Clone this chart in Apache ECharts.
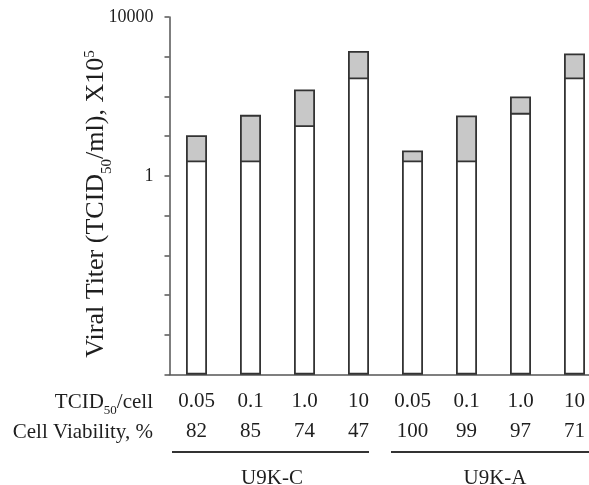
<!DOCTYPE html>
<html lang="en">
<head>
    <meta charset="UTF-8">
    <title>Viral Titer</title>
    <script src="https://cdn.jsdelivr.net/npm/echarts@6/dist/echarts.min.js"></script>
    <style>
        html, body { margin: 0; padding: 0; background: #fff; overflow: hidden; }
        /* the last bar band runs past the right edge of the picture */
        #chart { width: 602px; height: 485px; }
    </style>
</head>
<body>
    <div id="chart"></div>
    <script>
        // values (x10^5 TCID50/ml)
        var doses = ['0.05', '0.1', '1.0', '10', '0.05', '0.1', '1.0', '10'];
        var viability = ['82', '85', '74', '47', '100', '99', '97', '71'];
        var lowerTiter = [2.44, 2.44, 18.9, 300, 2.44, 2.44, 38.6, 300];   // white part
        var upperTiter = [10.6, 34.4, 150, 1400, 4.36, 33.2, 100, 1210];   // top of grey part
        var yTickLabels = ['1', '10000'];
        var groups = ['U9K-C', 'U9K-A'];

        var serif = '"Liberation Serif", "DejaVu Serif", serif';
        var ink = '#1e1e1e';

        var chart = echarts.init(document.getElementById('chart'));

        var option = {
            animation: false,
            grid: {
                left: 169.5,
                right: 0.5,
                top: 17,
                bottom: 110.5
            },
            xAxis: {
                type: 'category',
                data: doses.map(function (d, i) { return d + '\n' + viability[i]; }),
                axisTick: { show: false },
                axisLine: { lineStyle: { color: '#555', width: 1.5 } },
                axisLabel: {
                    margin: 12,
                    interval: 0,
                    color: ink,
                    fontFamily: serif,
                    fontSize: 21,
                    lineHeight: 30
                }
            },
            yAxis: {
                type: 'log',
                logBase: 10,
                min: 1e-5,
                max: 1e4,
                startValue: 1e-5,
                splitNumber: 9,
                splitLine: { show: false },
                axisLine: { show: true, lineStyle: { color: '#555', width: 1.5 } },
                axisTick: { show: true, inside: false, length: 5, lineStyle: { color: '#555', width: 1.5 } },
                axisLabel: {
                    margin: 16,
                    color: ink,
                    fontFamily: serif,
                    fontSize: 18,
                    formatter: function (v) {
                        var s = String(Math.round(v));
                        return (v >= 1 && yTickLabels.indexOf(s) >= 0) ? s : '';
                    }
                }
            },
            series: [
                {
                    name: 'total',
                    type: 'bar',
                    data: upperTiter,
                    barWidth: 21,
                    barGap: '-100%',
                    itemStyle: { color: '#c8c8c8', borderColor: '#333', borderWidth: 1.8 }
                },
                {
                    name: 'lower',
                    type: 'bar',
                    data: lowerTiter,
                    barWidth: 21,
                    barGap: '-100%',
                    itemStyle: { color: '#fff', borderColor: '#333', borderWidth: 1.8 }
                }
            ],
            graphic: [
                {
                    type: 'text',
                    x: 96, y: 204,
                    rotation: Math.PI / 2,
                    style: {
                        text: '{a|Viral Titer (TCID}{s|50}{a|/ml), X10}{p|5}',
                        align: 'center',
                        verticalAlign: 'middle',
                        rich: {
                            a: { fontFamily: serif, fontSize: 26, fill: ink, verticalAlign: 'bottom' },
                            s: { fontFamily: serif, fontSize: 15, fill: ink, padding: [0, 0, -6, 0], verticalAlign: 'bottom' },
                            p: { fontFamily: serif, fontSize: 15, fill: ink, padding: [0, 0, 11, 0], verticalAlign: 'bottom' }
                        }
                    }
                },
                {
                    type: 'text',
                    x: 153, y: 402,
                    style: {
                        text: '{a|TCID}{s|50}{a|/cell}',
                        align: 'right',
                        verticalAlign: 'middle',
                        rich: {
                            a: { fontFamily: serif, fontSize: 21, fill: ink, verticalAlign: 'bottom' },
                            s: { fontFamily: serif, fontSize: 13, fill: ink, padding: [0, 0, -5, 0], verticalAlign: 'bottom' }
                        }
                    }
                },
                {
                    type: 'text',
                    x: 153, y: 432,
                    style: {
                        text: 'Cell Viability, %',
                        align: 'right',
                        verticalAlign: 'middle',
                        font: '21px ' + serif,
                        fill: ink
                    }
                },
                {
                    type: 'line',
                    shape: { x1: 172, y1: 452, x2: 369, y2: 452 },
                    style: { stroke: '#333', lineWidth: 2 }
                },
                {
                    type: 'line',
                    shape: { x1: 391, y1: 452, x2: 602, y2: 452 },
                    style: { stroke: '#333', lineWidth: 2 }
                },
                {
                    type: 'text',
                    x: 272, y: 478,
                    style: { text: groups[0], align: 'center', verticalAlign: 'middle', font: '21px ' + serif, fill: ink }
                },
                {
                    type: 'text',
                    x: 495, y: 478,
                    style: { text: groups[1], align: 'center', verticalAlign: 'middle', font: '21px ' + serif, fill: ink }
                }
            ]
        };

        chart.setOption(option);
    </script>
</body>
</html>
